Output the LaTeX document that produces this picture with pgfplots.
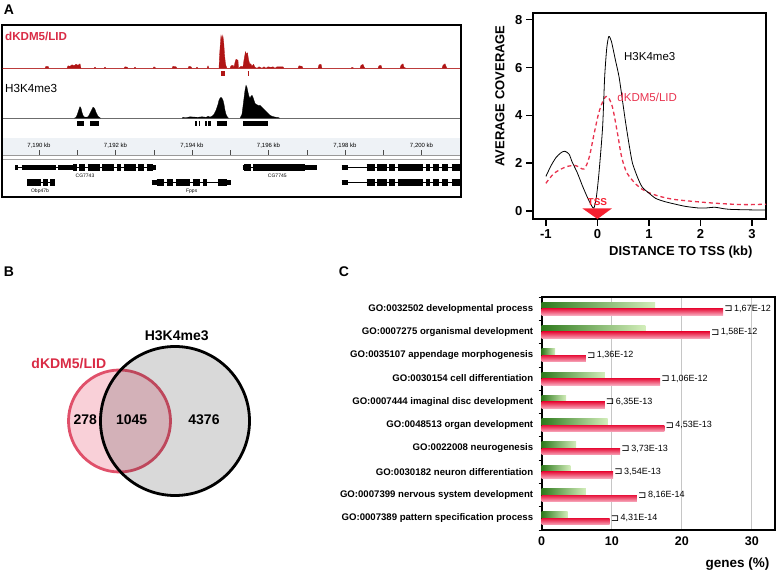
\documentclass[border=0pt]{standalone}
\usepackage{pgfplots}
\pgfplotsset{compat=1.18}
\usepackage{pgfplotstable}
\usepackage{fontspec}
\setmainfont{Liberation Sans}
\newfontfamily\dejavu{DejaVu Sans}
\newcommand{\fs}[1]{\fontsize{#1}{#1}\selectfont}
\definecolor{lidred}{HTML}{D92B45}
\definecolor{trackred}{HTML}{B01515}
\definecolor{curvered}{HTML}{E8334F}
\definecolor{tssred}{HTML}{F52030}
\definecolor{pinkfill}{HTML}{F9D0D8}
\definecolor{ringred}{HTML}{E0506A}
\definecolor{vgrey}{RGB}{27,27,27}
\definecolor{gdark}{HTML}{2E7A1C}
\definecolor{glight}{HTML}{D3EEBB}
\definecolor{rtop}{HTML}{E8143C}
\definecolor{rbot}{HTML}{F7A8BC}
\definecolor{rulerbg}{HTML}{EEF2F6}
\pgfplotstableread{
y g r p
1 3.7 9.7 4,31E-14
2 6.3 13.6 8,16E-14
3 4.1 10.2 3,54E-13
4 4.9 11.2 3,73E-13
5 9.4 17.5 4,53E-13
6 3.5 9.0 6,35E-13
7 9.0 16.9 1,06E-12
8 1.9 6.3 1,36E-12
9 14.8 24.0 1,58E-12
10 16.2 25.9 1,67E-12
}\godata
\begin{document}
\begin{tikzpicture}
\path[use as bounding box] (0pt,0pt) rectangle (776pt,570pt);
% ---------------- Venn circles (drawn first, texts come in the canvas axis)
\begin{axis}[at={(0pt,0pt)}, anchor=south west, scale only axis, width=776pt, height=570pt,
  xmin=0, xmax=776, ymin=0, ymax=570, hide axis, clip=false]
\addplot[only marks, mark=*, mark size=51pt, mark options={fill=pinkfill, draw=ringred, line width=2.8pt}] coordinates {(119.5,149)};
\addplot[only marks, mark=*, mark size=74.5pt, mark options={fill=vgrey, fill opacity=0.167, draw=none}] coordinates {(175,149)};
\addplot[only marks, mark=o, mark size=74.5pt, mark options={draw=black, line width=2.8pt}] coordinates {(175,149)};
\end{axis}
% ---------------- canvas axis (browser frame, genes, labels)
\begin{axis}[at={(0pt,0pt)}, anchor=south west, scale only axis, width=776pt, height=570pt,
  xmin=0, xmax=776, ymin=0, ymax=570, hide axis, clip=false, unbounded coords=jump]
% ruler band
\addplot[fill=rulerbg, draw=none] coordinates {(3,415)(460,415)(460,432)(3,432)} -- cycle;
\addplot[gray!80, line width=0.6pt] coordinates {(3,415)(460,415)};
\addplot[gray!70, line width=0.6pt] coordinates {(3,410.7)(460,410.7)};
\addplot[gray!60!black, line width=0.6pt] coordinates {
(39,415)(39,419.5) (nan,nan) (77.3,415)(77.3,419.5) (nan,nan)
(115.5,415)(115.5,419.5) (nan,nan) (153.8,415)(153.8,419.5) (nan,nan)
(192,415)(192,419.5) (nan,nan) (230.3,415)(230.3,419.5) (nan,nan)
(268.5,415)(268.5,419.5) (nan,nan) (306.8,415)(306.8,419.5) (nan,nan)
(345,415)(345,419.5) (nan,nan) (383.3,415)(383.3,419.5) (nan,nan)
(421.5,415)(421.5,419.5)};
% baselines
\addplot[trackred!70, line width=0.6pt] coordinates {(3,501.7)(460,501.7)};
\addplot[gray!50, line width=0.8pt] coordinates {(3,451.7)(460,451.7)};
% peak calls
\addplot[trackred, line width=5pt] coordinates {(221,496.5)(224.5,496.5)};
\addplot[trackred, line width=5pt] coordinates {(247.6,496.5)(248.4,496.5)};
\addplot[black, line width=4.7pt] coordinates {
(77,446.5)(84,446.5) (nan,nan) (90,446.5)(99,446.5) (nan,nan)
(195,446.5)(196.7,446.5) (nan,nan) (198.7,446.5)(200,446.5) (nan,nan)
(205,446.5)(206.5,446.5) (nan,nan) (208,446.5)(210.5,446.5) (nan,nan)
(216.7,446.5)(227.3,446.5) (nan,nan) (243,446.5)(268,446.5)};
% gene models: introns
\addplot[black, line width=0.7pt] coordinates {
(15,402.3)(156,402.3) (nan,nan) (242.7,402.3)(316.7,402.3) (nan,nan) (341.7,402.3)(460,402.3) (nan,nan)
(27,387.3)(55,387.3) (nan,nan) (151.7,387.3)(230.7,387.3) (nan,nan) (341.7,387.3)(460,387.3)};
% UTRs
\addplot[black, line width=4.5pt] coordinates {
(15,402.3)(18.3,402.3) (nan,nan) (21.7,402.3)(56,402.3) (nan,nan) (58.3,402.3)(73.3,402.3) (nan,nan)
(152.7,402.3)(156,402.3) (nan,nan) (242.7,402.3)(244,402.3) (nan,nan) (305,402.3)(316.7,402.3) (nan,nan)
(341.7,402.3)(348.3,402.3) (nan,nan)
(151.7,387.3)(156.7,387.3) (nan,nan) (226.7,387.3)(230.7,387.3) (nan,nan) (341.7,387.3)(348.3,387.3)};
% exons
\addplot[black, line width=7.5pt] coordinates {
(73.3,402.3)(77.3,402.3) (nan,nan) (79.3,402.3)(85.3,402.3) (nan,nan) (87.7,402.3)(100,402.3) (nan,nan)
(102.3,402.3)(114.3,402.3) (nan,nan) (117,402.3)(121,402.3) (nan,nan) (123.7,402.3)(135.7,402.3) (nan,nan)
(138,402.3)(144,402.3) (nan,nan) (146.7,402.3)(152.7,402.3) (nan,nan)
(244,402.3)(250.7,402.3) (nan,nan) (253.3,402.3)(305,402.3) (nan,nan)
(366.7,402.3)(375,402.3) (nan,nan) (377.3,402.3)(386.7,402.3) (nan,nan) (389.3,402.3)(395,402.3) (nan,nan)
(397.7,402.3)(423.3,402.3) (nan,nan) (426,402.3)(430,402.3) (nan,nan) (432.7,402.3)(439.3,402.3) (nan,nan)
(442.3,402.3)(448.3,402.3) (nan,nan) (451.7,402.3)(460,402.3) (nan,nan)
(27.3,387.3)(40.7,387.3) (nan,nan) (43.3,387.3)(48.3,387.3) (nan,nan) (50,387.3)(55,387.3) (nan,nan)
(156.7,387.3)(164,387.3) (nan,nan) (166.7,387.3)(173.3,387.3) (nan,nan) (176,387.3)(190,387.3) (nan,nan)
(192.7,387.3)(200,387.3) (nan,nan) (203.3,387.3)(206.7,387.3) (nan,nan) (218.3,387.3)(226.7,387.3) (nan,nan)
(366.7,387.3)(375,387.3) (nan,nan) (377.3,387.3)(386.7,387.3) (nan,nan) (389.3,387.3)(395,387.3) (nan,nan)
(397.7,387.3)(423.3,387.3) (nan,nan) (426,387.3)(430,387.3) (nan,nan) (432.7,387.3)(439.3,387.3) (nan,nan)
(442.3,387.3)(448.3,387.3) (nan,nan) (451.7,387.3)(460,387.3)};
% browser frame
\addplot[black, line width=1.8pt] coordinates {(2,373)(461,373)(461,545)(2,545)} -- cycle;
% ruler and gene labels
\node[font=\fs{6}] at (axis cs:39,424.3) {7,190 kb};
\node[font=\fs{6}] at (axis cs:115.5,424.3) {7,192 kb};
\node[font=\fs{6}] at (axis cs:192,424.3) {7,194 kb};
\node[font=\fs{6}] at (axis cs:268.5,424.3) {7,196 kb};
\node[font=\fs{6}] at (axis cs:345,424.3) {7,198 kb};
\node[font=\fs{6}] at (axis cs:421.5,424.3) {7,200 kb};
\node[font=\fs{5}] at (axis cs:85,394.3) {CG7743};
\node[font=\fs{5}] at (axis cs:277.3,394.3) {CG7745};
\node[font=\fs{5}] at (axis cs:40,379) {Obp47b};
\node[font=\fs{5}] at (axis cs:191.7,379) {Fpps};
\node[font=\bfseries\fs{11.6}, text=lidred, anchor=west, inner sep=0pt] at (axis cs:5,533.3) {dKDM5/LID};
\node[font=\fs{11.7}, anchor=west, inner sep=0pt] at (axis cs:5,481.3) {H3K4me3};
% Venn texts
\node[font=\bfseries\fs{14}] at (axis cs:176.7,234) {H3K4me3};
\node[font=\bfseries\fs{14}, text=lidred] at (axis cs:68.8,206) {dKDM5/LID};
\node[font=\bfseries\fs{14}] at (axis cs:85.3,150.7) {278};
\node[font=\bfseries\fs{14}] at (axis cs:131.7,150.7) {1045};
\node[font=\bfseries\fs{14}] at (axis cs:204,150.7) {4376};
% panel letters
\node[font=\bfseries\fs{14}] at (axis cs:9,560) {A};
\node[font=\bfseries\fs{14}] at (axis cs:9,298) {B};
\node[font=\bfseries\fs{14}] at (axis cs:344,298) {C};
\end{axis}
% ---------------- red signal track
\begin{axis}[at={(2pt,501.7pt)}, anchor=south west, scale only axis, width=459pt, height=40pt,
  xmin=2, xmax=461, ymin=0, ymax=40, hide axis]
\addplot[fill=trackred, draw=trackred, line width=0.3pt] coordinates {
(2,0)(45,0)(46,2)(48,2)(49,0)(67,0)(68,2.5)(70,2)(72,3.5)(74,2.5)(76,4)(78,3)(80,4.5)(81,0)
(94,0)(95,1.2)(96,0)(104,0)(105,1.2)(106,0)(124,0)(125,1.5)(127,1.2)(128,0)(134,0)(135,1.2)(136,0)
(153,0)(154,1.5)(156,0)(172,0)(173,2)(176,1.5)(177,0)(188,0)(189,2)(191,1.5)(192,0)(196,0)(197,1.2)(198,0)
(207,0)(208,2.5)(209,0)(219,0)(219.5,12)(220.3,24)(221,33)(222,29)(222.8,33)(223.7,26)(224.5,14)(225.3,6)(226,2.5)(227,0)
(230,0)(231,2.5)(233,3)(234,1)(235,6)(236,9)(238,8)(238.5,0)(241,2)(243,1.5)(243.8,7)(244.6,12)(245.5,16.6)
(246.5,14)(247.5,15.5)(248.5,9)(249.5,5)(251,4)(252,2)(253.5,4)(255,1)(257,0)(259,1.5)(262,0)(264,1.5)(266,0)
(268,1.5)(271,1)(273,1.5)(275,0)(277,1.5)(283,1.5)(284,0)(298,0)(299,2.5)(302,2)(303,0)(318,0)(319,3.5)(321,4)(322,0)
(351,0)(352,1)(354,0)(360,0)(361,3)(363,4)(364,1.5)(365,0)(378,0)(379,2.5)(381,3)(382,0)(400,0)(401,3)(403,4.5)(404,1)(406,0)
(442,0)(443,3)(445,4.5)(446,2)(447,0)(460,0)} \closedcycle;
\end{axis}
% ---------------- black signal track
\begin{axis}[at={(2pt,451.7pt)}, anchor=south west, scale only axis, width=459pt, height=40pt,
  xmin=2, xmax=461, ymin=0, ymax=40, hide axis]
\addplot[fill=black, draw=black, line width=0.3pt] coordinates {
(2,0)(74,0)(76,1)(77,3)(78,6)(79,9)(80,11.6)(81,10)(82,6)(83,3)(84,1.5)(86,1)(88,1.5)(89,3)(90,5)(92,9)(93,11)
(94,10.5)(95,9)(96,6)(97,4)(98,2)(100,0.5)(101,0)(182,0)(183,1)(186,0.5)(190,1.5)(194,1.2)(198,1)(202,1.5)(206,1)
(208,2)(210,1.2)(212,2)(214,4)(216,8)(218,14)(219,18)(220,20)(221,21)(222,20)(223,18)(224,14)(225,8)(226,4)(227,2)(228,0.5)(229,0)
(240,0)(242,4)(243,12)(244,20)(245,28)(246,33)(247,31)(248,26)(249,22)(250,20)(251,22)(252,23)(253,21)(254,18)(255,15)
(256,14)(258,13)(260,13)(262,11)(264,9)(266,7)(268,5)(270,3)(272,2)(275,1.2)(278,0.8)(280,0)(460,0)} \closedcycle;
\end{axis}
% ---------------- average coverage profile
\begin{axis}[at={(533pt,351pt)}, anchor=south west, scale only axis, width=233pt, height=206pt,
  xmin=-1.25, xmax=3.27, ymin=-0.33, ymax=8.28,
  axis line style={line width=1.6pt}, tick pos=left, tick align=outside, major tick length=7pt,
  tick style={black, line width=1.6pt},
  xtick={-1,0,1,2,3}, ytick={0,2,4,6,8},
  ticklabel style={font=\bfseries\fs{13}}, /pgf/number format/assume math mode=true,
  xlabel={DISTANCE TO TSS (kb)}, ylabel={AVERAGE COVERAGE},
  xlabel style={font=\bfseries\fs{13}, at={(axis description cs:1,0)}, anchor=north east, xshift=-10pt, yshift=-24pt},
  ylabel style={font=\bfseries\fs{13}, at={(axis description cs:-0.1416,0.597)}, anchor=center},
  clip=false]
\addplot[curvered, line width=1.3pt, dash pattern=on 4pt off 3pt, smooth] coordinates {
(-1.0,1.16)(-0.84,1.58)(-0.61,1.85)(-0.42,1.9)(-0.26,1.76)(-0.16,2.25)(-0.065,3.23)(0.03,4.14)(0.13,4.7)(0.2,4.78)
(0.29,4.36)(0.39,3.24)(0.47,2.26)(0.58,1.57)(0.81,1.0)(1.07,0.71)(1.45,0.5)(2.1,0.36)(2.6,0.29)(2.93,0.27)(3.27,0.29)};
\addplot[black, line width=0.8pt, smooth, tension=0.4] coordinates {
(-1.0,1.45)(-0.9,1.9)(-0.8,2.25)(-0.7,2.45)(-0.63,2.5)(-0.55,2.38)(-0.49,2.05)(-0.39,1.6)(-0.29,1.05)(-0.2,0.6)
(-0.12,0.25)(-0.07,0.12)(-0.02,0.6)(0.03,1.6)(0.1,3.5)(0.14,5.6)(0.18,6.8)(0.22,7.3)(0.27,7.1)(0.35,6.3)(0.42,5.6)
(0.5,4.4)(0.55,3.65)(0.62,2.7)(0.68,2.0)(0.78,1.4)(0.87,1.0)(1.0,0.75)(1.13,0.53)(1.3,0.4)(1.45,0.32)(1.7,0.2)
(1.96,0.13)(2.1,0.13)(2.28,0.16)(2.45,0.1)(2.6,0.07)(3.0,0.05)(3.27,0.05)};
\addplot[fill=tssred, draw=none] coordinates {(-0.29,0.11)(0.28,0.11)(0,-0.33)} -- cycle;
\node[font=\bfseries\fs{10}, text=tssred] at (axis cs:0,0.38) {TSS};
\node[font=\fs{11.5}, anchor=west] at (axis cs:0.45,6.45) {H3K4me3};
\node[font=\fs{11.5}, text=curvered, anchor=west] at (axis cs:0.32,4.74) {dKDM5/LID};
\end{axis}
% ---------------- GO enrichment bars
\begin{axis}[at={(541.7pt,40pt)}, anchor=south west, scale only axis, width=233.3pt, height=233pt,
  xmin=0, xmax=33.3, ymin=0.5, ymax=10.5,
  axis line style={line width=1.6pt},
  xtick={0,10,20,30}, xmajorgrids, grid style={gray!45, line width=0.8pt},
  ytick={1,...,10}, minor ytick={0.5,1.5,...,10.5},
  yticklabels={GO:0007389 pattern specification process, GO:0007399 nervous system development,
    GO:0030182 neuron differentiation, GO:0022008 neurogenesis, GO:0048513 organ development,
    GO:0007444 imaginal disc development, GO:0030154 cell differentiation,
    GO:0035107 appendage morphogenesis, GO:0007275 organismal development, GO:0032502 developmental process},
  tick align=outside, ytick pos=left, xtick pos=bottom, major tick length=0pt, minor tick length=3pt,
  minor tick style={black, line width=0.6pt},
  xticklabel style={font=\bfseries\fs{12.5}, yshift=-3pt}, yticklabel style={font=\bfseries\fs{9.6}, xshift=-5pt},
  /pgf/number format/assume math mode=true,
  xlabel={genes (\%)},
  xlabel style={font=\bfseries\fs{13.5}, at={(axis description cs:1,0)}, anchor=north east, xshift=-2pt, yshift=-24pt},
  clip=false, xbar, bar width=6.5pt]
\pgfplotsinvokeforeach{0,...,9}{
\addplot[draw=none, left color=gdark, right color=glight, bar shift=3.25pt,
  restrict expr to domain={\coordindex}{#1:#1}] table[x=g, y=y] {\godata};
\addplot[draw=none, top color=rtop, bottom color=rbot, bar shift=-3.25pt,
  restrict expr to domain={\coordindex}{#1:#1},
  point meta=explicit symbolic,
  nodes near coords={\raisebox{-0.5pt}{\dejavu\fs{10}⊐}\,\pgfplotspointmeta},
  nodes near coords style={anchor=west, xshift=0pt, yshift=3.25pt, font=\fs{9}, text=black, inner sep=1pt}]
  table[x=r, y=y, meta=p] {\godata};
}
\end{axis}
\end{tikzpicture}
\end{document}
